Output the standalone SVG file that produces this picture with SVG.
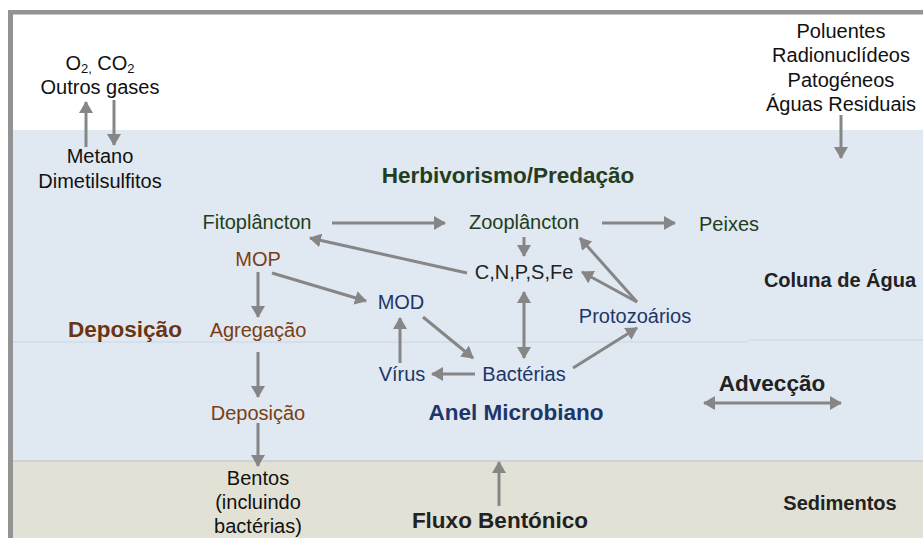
<svg xmlns="http://www.w3.org/2000/svg" width="923" height="538" viewBox="0 0 923 538">
<style>
text{font-family:"Liberation Sans",Arial,sans-serif;font-size:20px;text-anchor:middle}
.k{fill:#111}
.g{fill:#233d20}
.br{fill:#7a3e12}
.bl{fill:#1d3669}
.d{fill:#222}
.b{font-weight:bold;font-size:22.5px}
.c{stroke:#868686;stroke-width:3;fill:none;marker-end:url(#ah)}
.c2{stroke:#868686;stroke-width:3;fill:none;marker-end:url(#ah);marker-start:url(#ah)}
</style>
<defs>
<marker id="ah" markerUnits="userSpaceOnUse" viewBox="0 0 12 14" refX="11" refY="7" markerWidth="12" markerHeight="14" orient="auto-start-reverse">
<path d="M0,0 L12,7 L0,14 z" fill="#868686"/>
</marker>
</defs>
<rect x="0" y="0" width="923" height="538" fill="#fff"/>
<g id="layers">
<rect x="13" y="130" width="910" height="331" fill="#e0e8f1"/>
<rect x="13" y="461" width="910" height="77" fill="#e2e1d5"/>
<line x1="13" y1="461" x2="923" y2="461" stroke="#c9cdd0" stroke-width="1.5"/>
<line x1="13" y1="342" x2="748" y2="342" stroke="#c8d5e4" stroke-width="1.2"/>
<line x1="748" y1="340" x2="923" y2="340" stroke="#c8d5e4" stroke-width="1.2"/>
<rect x="8" y="10" width="5" height="528" fill="#939393"/>
<rect x="8" y="10" width="915" height="4.5" fill="#939393"/>
</g>
<g id="connectors">
<line class="c" x1="86" y1="147" x2="86" y2="102"/>
<line class="c" x1="114" y1="100" x2="114" y2="145"/>
<line class="c" x1="841" y1="115" x2="841" y2="158"/>
<line class="c" x1="332" y1="223" x2="445" y2="223"/>
<line class="c" x1="602" y1="223" x2="675" y2="223"/>
<line class="c" x1="467" y1="273" x2="310" y2="238"/>
<line class="c" x1="524" y1="237" x2="524" y2="256"/>
<line class="c" x1="272" y1="273" x2="366" y2="301"/>
<line class="c" x1="258" y1="272" x2="258" y2="317"/>
<line class="c" x1="637" y1="302" x2="580" y2="238"/>
<line class="c" x1="637" y1="302" x2="582" y2="272"/>
<line class="c2" x1="524" y1="292" x2="524" y2="358"/>
<line class="c" x1="423" y1="317" x2="473" y2="358"/>
<line class="c" x1="400" y1="363" x2="400" y2="318"/>
<line class="c" x1="475" y1="374" x2="432" y2="374"/>
<line class="c" x1="573" y1="368" x2="637" y2="328"/>
<line class="c" x1="258" y1="352" x2="258" y2="397"/>
<line class="c" x1="258" y1="423" x2="258" y2="466"/>
<line class="c2" x1="704" y1="403" x2="841" y2="403"/>
<line class="c" x1="499" y1="506" x2="499" y2="462"/>
</g>
<g id="gases">
<text class="k" x="100" y="70">O<tspan font-size="13" dy="3">2,</tspan><tspan dy="-3"> CO</tspan><tspan font-size="13" dy="3">2</tspan></text>
<text class="k" x="100" y="94">Outros gases</text>
</g>
<g id="metano">
<text class="k" x="100" y="163">Metano</text>
<text class="k" x="100" y="188">Dimetilsulfitos</text>
</g>
<g id="poluentes">
<text class="k" x="841" y="38">Poluentes</text>
<text class="k" x="841" y="62">Radionuclídeos</text>
<text class="k" x="841" y="87">Patogéneos</text>
<text class="k" x="841" y="111">Águas Residuais</text>
</g>
<g id="herbivorismo"><text class="g b" x="508" y="183">Herbivorismo/Predação</text></g>
<g id="fitoplancton"><text class="g" x="257" y="229">Fitoplâncton</text></g>
<g id="zooplancton"><text class="g" x="524" y="229">Zooplâncton</text></g>
<g id="peixes"><text class="g" x="729" y="231">Peixes</text></g>
<g id="mop"><text class="br" x="258" y="266">MOP</text></g>
<g id="cnpsfe"><text class="d" x="524" y="279">C,N,P,S,Fe</text></g>
<g id="mod"><text class="bl" x="401" y="309">MOD</text></g>
<g id="protozoarios"><text class="bl" x="635" y="323">Protozoários</text></g>
<g id="coluna"><text class="d b" x="840" y="287" style="font-size:20px">Coluna de Água</text></g>
<g id="deposicao-titulo"><text class="b" x="125" y="337" fill="#6b3412">Deposição</text></g>
<g id="agregacao"><text class="br" x="258" y="337">Agregação</text></g>
<g id="virus"><text class="bl" x="402" y="381">Vírus</text></g>
<g id="bacterias"><text class="bl" x="524" y="381">Bactérias</text></g>
<g id="adveccao"><text class="d b" x="772" y="391">Advecção</text></g>
<g id="deposicao"><text class="br" x="258" y="420">Deposição</text></g>
<g id="anel"><text class="b" x="516" y="420" fill="#1d3669">Anel Microbiano</text></g>
<g id="bentos">
<text class="k" x="258" y="485">Bentos</text>
<text class="k" x="258" y="509">(incluindo</text>
<text class="k" x="258" y="533">bactérias)</text>
</g>
<g id="sedimentos"><text class="d b" x="840" y="510" style="font-size:20px">Sedimentos</text></g>
<g id="fluxo"><text class="d b" x="500" y="528">Fluxo Bentónico</text></g>
</svg>
